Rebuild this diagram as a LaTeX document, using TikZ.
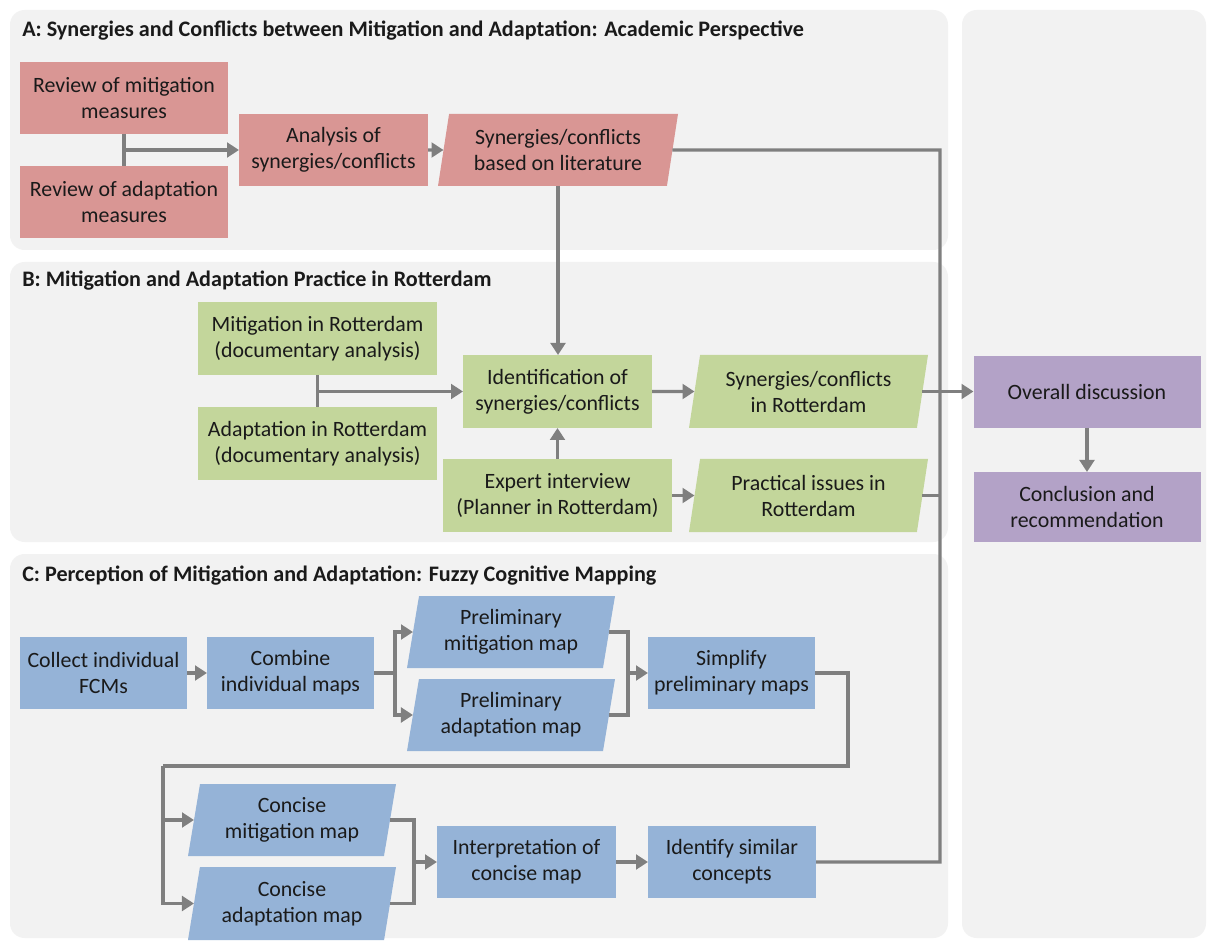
\documentclass[tikz,border=0pt]{standalone}
\usepackage{fontspec}
\setmainfont{Carlito}
\usetikzlibrary{arrows.meta,shapes.geometric,calc}
\definecolor{panelgray}{HTML}{F2F2F2}
\definecolor{redbox}{HTML}{D99694}
\definecolor{greenbox}{HTML}{C3D69B}
\definecolor{bluebox}{HTML}{95B3D7}
\definecolor{purplebox}{HTML}{B3A2C7}
\definecolor{linegray}{HTML}{7F7F7F}
\definecolor{txt}{HTML}{1A1A1A}
\begin{document}
\begin{tikzpicture}[x=0.75pt,y=-0.75pt,
  panel/.style={fill=panelgray, rounded corners=11pt},
  sz/.style 2 args={minimum width=#1*0.75pt, minimum height=#2*0.75pt},
  box/.style={rectangle, inner sep=0pt, outer sep=0pt, align=center, text=txt,
    font=\fontsize{16.4}{19.5}\selectfont},
  para/.style={box, trapezium, trapezium left angle=75, trapezium right angle=105,
    trapezium stretches body},
  redb/.style={box, fill=redbox},
  greenb/.style={box, fill=greenbox},
  blueb/.style={box, fill=bluebox},
  purpleb/.style={box, fill=purplebox},
  title/.style={anchor=west, inner sep=0pt, text=txt, font=\bfseries\fontsize{16.6}{19}\selectfont},
  link/.style={draw=linegray, line width=2.3pt},
  flow/.style={link, -{Triangle[length=9pt,width=11pt]}}
]
\useasboundingbox[fill=white] (0,0) rectangle (1208,941);

% section panels
\fill[panel] (10,10) rectangle (948,250);
\fill[panel] (10,262) rectangle (948,542);
\fill[panel] (10,554) rectangle (948,938);
\fill[panel] (962,10) rectangle (1206,938);

\node[title] (tA) at (22,31) {A: Synergies and Conflicts between Mitigation and Adaptation: Academic Perspective};
\node[title] (tB) at (22,281) {B: Mitigation and Adaptation Practice in Rotterdam};
\node[title] (tC) at (22,576) {C: Perception of Mitigation and Adaptation: Fuzzy Cognitive Mapping};

% A: academic perspective
\node[redb, sz={208}{72}] (revmit) at (124,98) {Review of mitigation\\measures};
\node[redb, sz={208}{72}] (revada) at (124,202) {Review of adaptation\\measures};
\node[redb, sz={189}{72}] (analysis) at (333.5,150) {Analysis of\\synergies/conflicts};
\node[para, fill=redbox, sz={240}{72}] (synlit) at (558,150) {Synergies/conflicts\\based on literature};

% B: practice in Rotterdam
\node[greenb, sz={239}{73}] (mitrot) at (317.5,338.5) {Mitigation in Rotterdam\\(documentary analysis)};
\node[greenb, sz={239}{73}] (adarot) at (317.5,443.5) {Adaptation in Rotterdam\\(documentary analysis)};
\node[greenb, sz={189}{73}] (ident) at (557.5,391.5) {Identification of\\synergies/conflicts};
\node[para, fill=greenbox, sz={239}{73}] (synrot) at (808.5,391.5) {Synergies/conflicts\\in Rotterdam};
\node[greenb, sz={229}{73}] (expert) at (557.5,495.5) {Expert interview\\(Planner in Rotterdam)};
\node[para, fill=greenbox, sz={239}{73}] (pract) at (808.5,495.5) {Practical issues in\\Rotterdam};

% right column
\node[purpleb, sz={227}{72}] (overall) at (1087,392) {Overall discussion};
\node[purpleb, sz={227}{70}] (concl) at (1087,507) {Conclusion and\\recommendation};

% C: fuzzy cognitive mapping
\node[blueb, sz={167}{72}] (collect) at (103.5,673) {Collect individual\\FCMs};
\node[blueb, sz={167}{72}] (combine) at (290.5,673) {Combine\\individual maps};
\node[para, fill=bluebox, sz={208}{72}] (premit) at (511,632) {Preliminary\\mitigation map};
\node[para, fill=bluebox, sz={208}{72}] (preada) at (511,715) {Preliminary\\adaptation map};
\node[blueb, sz={167}{72}] (simplify) at (731.5,673) {Simplify\\preliminary maps};
\node[para, fill=bluebox, sz={208}{72}] (conmit) at (292,820) {Concise\\mitigation map};
\node[para, fill=bluebox, sz={208}{73}] (conada) at (292,903.5) {Concise\\adaptation map};
\node[blueb, sz={179}{72}] (interp) at (526.5,862) {Interpretation of\\concise map};
\node[blueb, sz={168}{72}] (identify) at (732,862) {Identify similar\\concepts};

% junction points
\coordinate (jA) at (124,150);
\coordinate (jB) at (317.5,391.5);
\coordinate (bus) at (940,150);
\coordinate (fork) at (395,673);
\coordinate (merge1) at (628,673);
\coordinate (loop) at (848,766);
\coordinate (fork2) at (163,766);
\coordinate (merge2) at (414,862);

% A connectors
\draw[link] (revmit.south) -- (revada.north);
\draw[flow] (jA) -- (analysis.west);
\draw[flow] (analysis.east) -- (synlit.west);
\draw[flow] (synlit.south) -- (synlit.south |- ident.north);

% B connectors
\draw[link] (mitrot.south) -- (adarot.north);
\draw[flow] (jB) -- (ident.west);
\draw[flow] (ident.east) -- (synrot.west);
\draw[flow] (expert.north) -- (ident.south);
\draw[flow] (expert.east) -- (expert.east -| pract.west);
\draw[flow] (synrot.east) -- (synrot.east -| overall.west);
\draw[link] (pract.east) -- (pract.east -| bus);
\draw[flow] (overall.south) -- (concl.north);

% collecting line on the right
\draw[link] (synlit.east) -- (bus) -- (bus |- identify.east) -- (identify.east);

% C connectors
\draw[flow] (collect.east) -- (combine.west);
\draw[link] (combine.east) -- (fork);
\draw[flow] (fork) |- (premit.west);
\draw[flow] (fork) |- (preada.west);
\draw[link] (premit.east) -| (merge1);
\draw[link] (preada.east) -| (merge1);
\draw[flow] (merge1) -- (simplify.west);
\draw[link] (simplify.east) -| (loop) -- (fork2);
\draw[flow] (fork2) |- (conmit.west);
\draw[flow] (fork2) |- (conada.west);
\draw[link] (conmit.east) -| (merge2);
\draw[link] (conada.east) -| (merge2);
\draw[flow] (merge2) -- (interp.west);
\draw[flow] (interp.east) -- (identify.west);
\end{tikzpicture}
\end{document}
